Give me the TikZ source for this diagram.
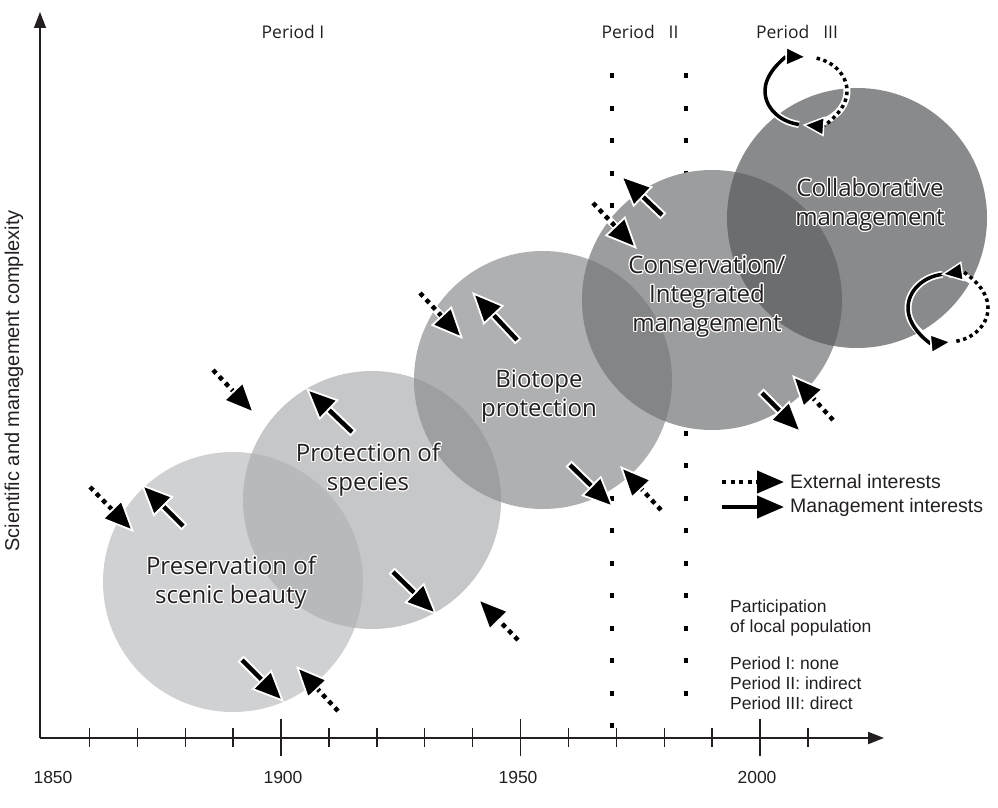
\documentclass[tikz,border=0pt]{standalone}
\usepackage{fontspec}
\setmainfont{Open Sans}
\newfontfamily\arial{Liberation Sans}
\usepackage{contour}
\contourlength{1.1pt}
\usetikzlibrary{arrows.meta}

\definecolor{ink}{HTML}{231F20}
\definecolor{discA}{RGB}{189,190,192}
\definecolor{discB}{RGB}{175,176,178}
\definecolor{discC}{RGB}{142,143,145}
\definecolor{discD}{RGB}{115,116,118}
\definecolor{discE}{RGB}{88,89,91}

\newcommand\halotext[1]{\contour{white}{#1}}

\tikzset{
  bigtip/.tip={Triangle[length=32pt,width=28pt,color=white,fill=black,line width=1.8pt]},
  smalltip/.tip={Triangle[length=22pt,width=20pt,color=white,fill=black,line width=1.5pt]},
  legtip/.tip={Triangle[length=27pt,width=22pt]},
  disc/.style={fill=#1, fill opacity=0.7, draw=none},
  whitedisc/.style={fill=white, draw=none},
  shafthalo/.style={draw=white, line width=8.5pt},
  mgmtline/.style={draw=black, line width=4.5pt, -bigtip},
  extline/.style={draw=black, line width=4.5pt, dash pattern=on 4.5pt off 4.5pt, -bigtip},
  loophalo/.style={draw=white, line width=7pt},
  loopsolid/.style={draw=black, line width=3.5pt, -smalltip},
  loopdots/.style={draw=black, line width=3.5pt, dash pattern=on 3.5pt off 3.5pt, -smalltip},
  periodline/.style={draw=black, line width=4.5pt, dash pattern=on 5pt off 27.5pt},
  disctext/.style={align=center, text=ink, font=\fontsize{24}{29}\selectfont},
  periodlabel/.style={text=ink, font=\fontsize{17.5}{20}\selectfont},
  plaintext/.style={text=ink, font=\arial\fontsize{17.5}{20}\selectfont, anchor=west, inner sep=0pt},
  legendtext/.style={text=ink, font=\arial\fontsize{19.5}{22}\selectfont, anchor=west, inner sep=0pt},
  yearlabel/.style={text=ink, font=\arial\fontsize{17.5}{20}\selectfont},
  axislabel/.style={text=ink, font=\arial\fontsize{20}{24}\selectfont},
  axisline/.style={draw=ink, line width=2pt},
}

% management interest: solid arrow with white halo
\newcommand\mgmt[2]{%
  \draw[shafthalo, shorten >=22pt, shorten <=-2pt] #1 -- #2;
  \draw[mgmtline] #1 -- #2;}
% external interest: dotted arrow with white halo
\newcommand\extn[2]{%
  \draw[shafthalo, line width=7.5pt, shorten >=22pt, shorten <=-2pt] #1 -- #2;
  \draw[extline] #1 -- #2;}

\begin{document}
\begin{tikzpicture}[x=1pt, y=-1pt]
\useasboundingbox (0,0) rectangle (998,808);

% period boundaries
\draw[periodline] (612,73) -- (612,729);
\draw[periodline] (686,73) -- (686,712);

% development phases
\foreach \cx/\cy in {233/582, 372/500, 543/380, 712/300, 857/218}
  \fill[whitedisc] (\cx,\cy) circle[radius=130];
\fill[disc=discA] (233,582) circle[radius=130];
\fill[disc=discB] (372,500) circle[radius=129];
\fill[disc=discC] (543,380) circle[radius=129];
\fill[disc=discD] (712,300) circle[radius=130];
\fill[disc=discE] (857,218) circle[radius=130];

% interests acting on each phase
\extn{(90,487)}{(134,532)}
\mgmt{(183,526)}{(141,484)}
\mgmt{(242,660)}{(284,702)}
\extn{(338,711)}{(296,666)}

\extn{(213,370)}{(255,414)}
\mgmt{(352,432)}{(306,388)}
\mgmt{(393,572)}{(437,615)}
\extn{(518,640)}{(477,598)}

\extn{(420,293)}{(463,339)}
\mgmt{(517,340)}{(472,292)}
\mgmt{(570,465)}{(614,508)}
\extn{(661,510)}{(620,466)}

\extn{(593,203)}{(637,249)}
\mgmt{(662,215)}{(620,175)}
\mgmt{(762,393)}{(802,433)}
\extn{(833,420)}{(792,375)}

% feedback loops of the collaborative phase
\draw[loophalo] (806,91) ++(100:41 and 34) arc[start angle=100, end angle=262, x radius=41, y radius=34];
\draw[loophalo] (806,91) ++(285:41 and 34) arc[start angle=285, end angle=440, x radius=41, y radius=34];
\draw[loopsolid] (806,91) ++(100:41 and 34) arc[start angle=100, end angle=272, x radius=41, y radius=34];
\draw[loopdots] (806,91) ++(285:41 and 34) arc[start angle=285, end angle=455, x radius=41, y radius=34];

\draw[loophalo] (948,308) ++(262:40 and 34) arc[start angle=262, end angle=95, x radius=40, y radius=34];
\draw[loophalo] (948,308) ++(78:40 and 34) arc[start angle=78, end angle=-88, x radius=40, y radius=34];
\draw[loopsolid] (948,308) ++(262:40 and 34) arc[start angle=262, end angle=84, x radius=40, y radius=34];
\draw[loopdots] (948,308) ++(78:40 and 34) arc[start angle=78, end angle=-100, x radius=40, y radius=34];

% phase names
\node[disctext] (p1) at (231,583) {\halotext{Preservation of}\\\halotext{scenic beauty}};
\node[disctext] (p2) at (368,470) {\halotext{Protection of}\\\halotext{species}};
\node[disctext] (p3) at (539,397) {\halotext{Biotope}\\\halotext{protection}};
\node[disctext] (p4) at (707,297) {\halotext{Conservation/}\\\halotext{Integrated}\\\halotext{management}};
\node[disctext] (p5) at (870,205) {\halotext{Collaborative}\\\halotext{management}};

% period headings
\node[periodlabel] (h1) at (293,32) {Period I};
\node[periodlabel] (h2) at (640,32) {Period\hspace{14pt}II};
\node[periodlabel] (h3) at (797,32) {Period\hspace{14pt}III};

% legend
\coordinate (le1) at (722,482);
\coordinate (le2) at (784,482);
\coordinate (lm1) at (722,507);
\coordinate (lm2) at (784,507);
\draw[draw=black, line width=4pt, dash pattern=on 4pt off 4.5pt, -legtip] (le1) -- (le2);
\draw[draw=black, line width=4pt, -legtip] (lm1) -- (lm2);
\node[legendtext] (lt1) at (790,482) {External interests};
\node[legendtext] (lt2) at (790,507) {Management interests};

% participation notes
\node[plaintext] (n1) at (730,608) {Participation};
\node[plaintext] (n2) at (730,628) {of local population};
\node[plaintext] (n3) at (730,663) {Period I: none};
\node[plaintext] (n4) at (730,683) {Period II: indirect};
\node[plaintext] (n5) at (730,703) {Period III: direct};

% axes
\coordinate (origin) at (40,738);
\coordinate (xend) at (884,738);
\coordinate (yend) at (40,12);
\draw[axisline, -{Triangle[length=16pt,width=12pt]}] (origin) -- (xend);
\draw[axisline, line width=1.2pt, -{Triangle[length=16pt,width=12pt]}] (origin) -- (yend);
\foreach \k in {1,...,16} {
  \pgfmathsetmacro\tx{41.5+47.9*\k}
  \ifnum\k=5 \draw[ink, line width=1.4pt] (\tx,719) -- (\tx,756);
  \else\ifnum\k=10 \draw[ink, line width=1.4pt] (\tx,719) -- (\tx,756);
  \else\ifnum\k=15 \draw[ink, line width=1.4pt] (\tx,719) -- (\tx,756);
  \else \draw[ink, line width=1.4pt] (\tx,728) -- (\tx,747);
  \fi\fi\fi
}
\node[yearlabel] (y1) at (53,777) {1850};
\node[yearlabel] (y2) at (283,777) {1900};
\node[yearlabel] (y3) at (518,777) {1950};
\node[yearlabel] (y4) at (757,777) {2000};
\node[axislabel, rotate=90] (ylab) at (14,381) {Scientific and management complexity};
\end{tikzpicture}
\end{document}
